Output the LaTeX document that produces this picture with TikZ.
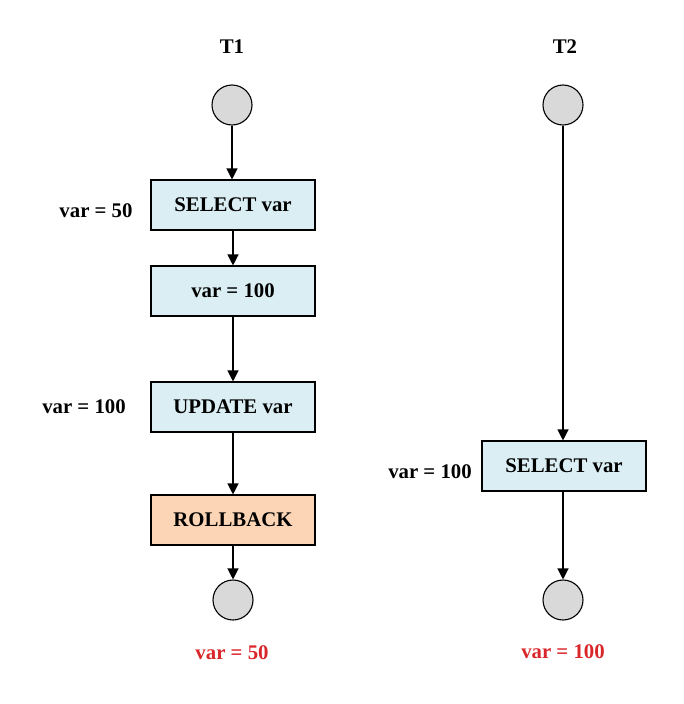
\documentclass[tikz,border=0pt]{standalone}
\usepackage{fontspec}
\setmainfont{Liberation Serif}
\usetikzlibrary{arrows.meta}
\definecolor{boxblue}{HTML}{DAEEF3}
\definecolor{boxorange}{HTML}{FBD5B5}
\definecolor{circgray}{HTML}{D9D9D9}
\definecolor{redtxt}{HTML}{D9262A}
\tikzset{
  stepbox/.style={draw, line width=1.1pt, fill=boxblue, minimum width=164pt, minimum height=50pt, inner sep=0pt, font=\fontsize{20.8}{24}\selectfont\bfseries},
  rollbox/.style={stepbox, fill=boxorange},
  state/.style={draw, circle, line width=1.1pt, fill=circgray, minimum size=40pt, inner sep=0pt},
  lbl/.style={font=\fontsize{20.8}{24}\selectfont\bfseries},
  redlbl/.style={lbl, text=redtxt},
  flow/.style={line width=1.2pt, -{Triangle[length=11pt, width=11pt]}}
}
\begin{document}
\begin{tikzpicture}[x=1pt,y=-1pt]
\useasboundingbox (0,0) rectangle (683,704);
% T1
\node[lbl] (t1) at (232,47) {T1};
\node[state] (s1) at (232,105) {};
\node[stepbox] (sel1) at (233,205) {SELECT var};
\node[stepbox] (v100) at (233,291) {var = 100};
\node[stepbox] (upd) at (233,407) {UPDATE var};
\node[rollbox] (rb) at (233,520) {ROLLBACK};
\node[state] (e1) at (233,600) {};
\node[lbl] (l50) at (96,211) {var = 50};
\node[lbl] (l100a) at (84,407) {var = 100};
\node[redlbl] (r50) at (232,653) {var = 50};
% T2
\node[lbl] (t2) at (565,47) {T2};
\node[state] (s2) at (563,105) {};
\node[stepbox] (sel2) at (564,466) {SELECT var};
\node[state] (e2) at (563,600) {};
\node[lbl] (l100b) at (430,472) {var = 100};
\node[redlbl] (r100) at (563,652) {var = 100};
% connectors
\draw[flow] (s1) -- (s1 |- sel1.north);
\draw[flow] (sel1) -- (v100);
\draw[flow] (v100) -- (upd);
\draw[flow] (upd) -- (rb);
\draw[flow] (rb) -- (e1);
\draw[flow] (s2) -- (s2 |- sel2.north);
\draw[flow] (sel2.south -| e2) -- (e2);
\end{tikzpicture}
\end{document}
